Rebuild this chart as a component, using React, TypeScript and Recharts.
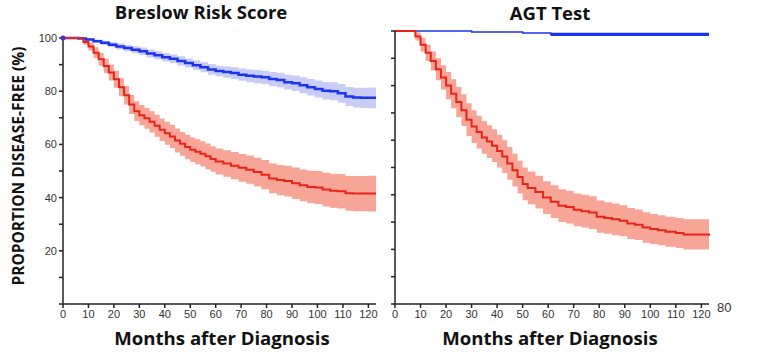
import React from 'react'
import {
    ComposedChart,
    Line,
    Area,
    XAxis,
    YAxis,
    ReferenceDot
} from 'recharts'

// Breslow panel, low risk (blue)
const breslowLowMonths = [0, 3, 6, 9, 12, 15, 18, 21, 24, 27, 30, 33, 36, 39, 42, 45, 48, 51, 54, 57, 60, 63, 66, 69, 72, 75, 78, 81, 84, 87, 90, 93, 96, 99, 102, 105, 108, 111, 114, 117, 120, 123]
const breslowLow = [100, 100, 99.8, 99.4, 98.8, 98.2, 97.5, 96.8, 96.2, 95.6, 95, 94.2, 93.5, 92.8, 92.2, 91.4, 90.6, 89.8, 89, 88.2, 87.6, 87.2, 86.8, 86.2, 85.8, 85.5, 85.2, 84.6, 84.2, 83.4, 83, 82.2, 81.5, 80.8, 80.2, 80, 79.2, 78, 77.6, 77.5, 77.5, 77.5]
const breslowLowCi = [0, 0, 0.2, 0.4, 0.6, 0.8, 1, 1.1, 1.2, 1.3, 1.4, 1.5, 1.5, 1.6, 1.6, 1.7, 1.7, 1.8, 1.9, 2, 2, 2.1, 2.2, 2.3, 2.4, 2.5, 2.5, 2.6, 2.7, 2.8, 2.9, 3, 3.1, 3.2, 3.3, 3.4, 3.5, 3.6, 3.7, 3.8, 3.9, 4]

// Breslow panel, high risk (red)
const breslowHighMonths = [0, 3, 6, 8, 10, 12, 14, 16, 18, 20, 22, 24, 26, 28, 30, 32, 34, 36, 38, 40, 42, 44, 46, 48, 50, 52, 54, 56, 58, 60, 63, 66, 69, 72, 75, 78, 81, 84, 87, 90, 93, 96, 99, 102, 105, 108, 111, 114, 117, 120, 123]
const breslowHigh = [100, 100, 100, 98.5, 96.8, 94.5, 92, 89.5, 87, 84.5, 81.5, 78.5, 75, 72.5, 71, 69.8, 68.5, 67, 65.5, 64.2, 63, 61.5, 60.2, 59, 58, 57.2, 56.5, 55.5, 54.5, 53.6, 52.8, 52, 51.2, 50.5, 49.6, 48.6, 47.2, 46.6, 46.2, 45.4, 44.6, 44, 43.8, 43, 42.6, 42.4, 41.6, 41.5, 41.5, 41.5, 41.5]
const breslowHighCi = [0, 0, 0, 1, 1.5, 2, 2.4, 2.7, 3, 3.2, 3.4, 3.5, 3.6, 3.7, 3.8, 3.9, 4, 4.1, 4.2, 4.3, 4.4, 4.5, 4.5, 4.6, 4.6, 4.7, 4.7, 4.8, 4.8, 4.9, 5, 5.1, 5.2, 5.3, 5.4, 5.5, 5.6, 5.7, 5.8, 5.9, 6, 6.1, 6.2, 6.3, 6.4, 6.5, 6.5, 6.6, 6.6, 6.7, 6.7]

// AGT panel
const agtMonths = [0, 6, 8, 10, 12, 14, 16, 18, 20, 22, 24, 26, 28, 30, 32, 34, 36, 38, 40, 42, 44, 46, 48, 50, 52, 55, 58, 61, 64, 67, 70, 73, 76, 79, 82, 85, 88, 91, 94, 97, 100, 103, 106, 110, 113, 123]
const agtLow = [100, 100, 100, 100, 100, 100, 100, 100, 100, 100, 100, 100, 100, 99.6, 99.6, 99.6, 99.6, 99.6, 99.6, 99.6, 99.6, 99.6, 99.6, 99.3, 99.3, 99.3, 99.3, 98.8, 98.8, 98.8, 98.8, 98.8, 98.8, 98.8, 98.8, 98.8, 98.8, 98.8, 98.8, 98.8, 98.8, 98.8, 98.8, 98.8, 98.8, 98.8]
const agtHigh = [100, 100, 98, 95, 92, 89, 86, 83, 80, 77, 74, 71, 67.5, 65, 63, 61, 59.5, 58, 56, 54, 51.5, 49, 46.5, 44, 42.5, 41, 39, 37.5, 36, 35.5, 34.5, 34, 33.5, 32, 31.5, 31, 30.5, 29.5, 29, 28, 27.5, 27, 26.5, 26, 25.5, 25]
const agtHighCi = [0, 0, 1.5, 2.5, 3, 3.5, 4, 4.5, 5, 5.3, 5.5, 5.8, 6, 6, 6, 6, 6, 6, 6, 6, 6, 6, 6, 6, 6, 6, 6, 6, 6, 6, 6, 6, 6, 5.9, 5.8, 5.8, 5.7, 5.7, 5.6, 5.6, 5.5, 5.5, 5.5, 5.5, 5.5, 5.5]

const xTicks = [0, 10, 20, 30, 40, 50, 60, 70, 80, 90, 100, 110, 120]
const yTicks = [0, 10, 20, 30, 40, 50, 60, 70, 80, 90, 100]

const BLUE = '#1b34ee'
const BLUE_BAND = '#c8ccf6'
const RED = '#e8241a'
const RED_BAND = '#f7a597'
const AXIS = '#222'

const breslowLowData = breslowLowMonths.map((m, i) => ({
    month: m,
    value: breslowLow[i],
    band: [breslowLow[i] - breslowLowCi[i], Math.min(100, breslowLow[i] + breslowLowCi[i])]
}))

const breslowHighData = breslowHighMonths.map((m, i) => ({
    month: m,
    value: breslowHigh[i],
    band: [breslowHigh[i] - breslowHighCi[i], Math.min(100, breslowHigh[i] + breslowHighCi[i])]
}))

const agtData = agtMonths.map((m, i) => ({
    month: m,
    low: agtLow[i],
    lowBand: [agtLow[i] - (i > 26 ? 0.6 : 0), agtLow[i] + (i > 26 ? 0.6 : 0)],
    high: agtHigh[i],
    highBand: [agtHigh[i] - agtHighCi[i], Math.min(100, agtHigh[i] + agtHighCi[i])]
}))

const tickStyle = { fontSize: 11, fill: '#333', fontFamily: 'Liberation Sans, Arial, sans-serif' }
const titleStyle: React.CSSProperties = {
    position: 'absolute',
    fontFamily: '"Open Sans", sans-serif',
    fontWeight: 700,
    color: '#111',
    whiteSpace: 'nowrap',
    transform: 'translateX(-50%)'
}

const App = () => {
    return (
        <div style={{ position: 'absolute', left: 0, top: 0, width: 768, height: 354, background: '#fff' }}>
            <div style={{ position: 'absolute', left: 0, top: 0 }}>
                <ComposedChart width={384} height={354} margin={{ top: 38, right: 8, left: 0, bottom: 20 }}>
                    <XAxis
                        dataKey="month"
                        type="number"
                        domain={[0, 123]}
                        ticks={xTicks}
                        tick={tickStyle}
                        stroke={AXIS}
                        strokeWidth={1.5}
                        tickSize={4}
                        height={30}
                        interval={0}
                        allowDuplicatedCategory={false}
                    />
                    <YAxis
                        type="number"
                        domain={[0, 100]}
                        ticks={yTicks}
                        tick={tickStyle}
                        tickFormatter={(v: number) => (v > 0 && v % 20 === 0 ? String(v) : '')}
                        stroke={AXIS}
                        strokeWidth={1.5}
                        tickSize={4}
                        width={63}
                        interval={0}
                    />
                    <Area data={breslowLowData} type="stepAfter" dataKey="band" stroke="none" fill={BLUE_BAND} fillOpacity={1} isAnimationActive={false} />
                    <Area data={breslowHighData} type="stepAfter" dataKey="band" stroke="none" fill={RED_BAND} fillOpacity={1} isAnimationActive={false} />
                    <Line data={breslowLowData} type="stepAfter" dataKey="value" stroke={BLUE} strokeWidth={2.5} dot={false} isAnimationActive={false} />
                    <Line data={breslowHighData} type="stepAfter" dataKey="value" stroke={RED} strokeWidth={2} dot={false} isAnimationActive={false} />
                    <ReferenceDot x={0} y={100} r={2.5} fill="#4a32c8" stroke="none" />
                </ComposedChart>
            </div>
            <div style={{ position: 'absolute', left: 384, top: 0 }}>
                <ComposedChart width={384} height={354} data={agtData} margin={{ top: 31, right: 59, left: 0, bottom: 20 }}>
                    <XAxis
                        dataKey="month"
                        type="number"
                        domain={[0, 123]}
                        ticks={xTicks}
                        tick={tickStyle}
                        stroke={AXIS}
                        strokeWidth={1.5}
                        tickSize={4}
                        height={30}
                        interval={0}
                    />
                    <YAxis
                        type="number"
                        domain={[0, 100]}
                        ticks={yTicks}
                        tick={tickStyle}
                        tickFormatter={() => ''}
                        stroke={AXIS}
                        strokeWidth={1.5}
                        tickSize={4}
                        width={11}
                        interval={0}
                    />
                    <Area type="stepAfter" dataKey="lowBand" stroke="none" fill={BLUE} fillOpacity={1} isAnimationActive={false} />
                    <Area type="stepAfter" dataKey="highBand" stroke="none" fill={RED_BAND} fillOpacity={1} isAnimationActive={false} />
                    <Line type="stepAfter" dataKey="low" stroke={BLUE} strokeWidth={1.5} dot={false} isAnimationActive={false} />
                    <Line type="stepAfter" dataKey="high" stroke={RED} strokeWidth={2} dot={false} isAnimationActive={false} />
                </ComposedChart>
            </div>

            <div style={{ ...titleStyle, left: 201, top: -1, fontSize: 18.5 }}>Breslow Risk Score</div>
            <div style={{ ...titleStyle, left: 550, top: 0, fontSize: 18.5 }}>AGT Test</div>
            <div style={{ ...titleStyle, left: 222, top: 325, fontSize: 18.6 }}>Months after Diagnosis</div>
            <div style={{ ...titleStyle, left: 550, top: 325, fontSize: 18.6 }}>Months after Diagnosis</div>
            <div
                style={{
                    position: 'absolute',
                    left: 18,
                    top: 166,
                    transform: 'translate(-50%, -50%) rotate(-90deg)',
                    fontFamily: '"Open Sans", sans-serif',
                    fontWeight: 700,
                    fontSize: 15.5,
                    color: '#111',
                    whiteSpace: 'nowrap'
                }}
            >
                PROPORTION DISEASE-FREE (%)
            </div>
            <div style={{ position: 'absolute', left: 717, top: 300, fontSize: 13, color: '#333', fontFamily: 'Liberation Sans, Arial, sans-serif' }}>80</div>
        </div>
    )
}

export default App
